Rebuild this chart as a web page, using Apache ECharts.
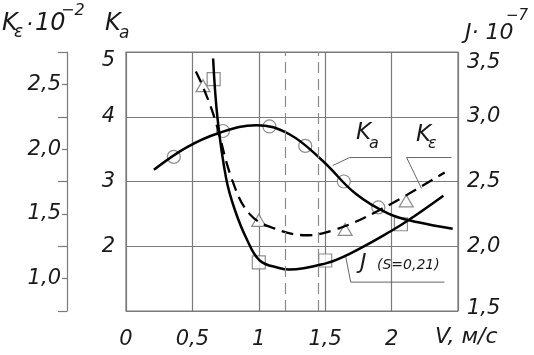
<!DOCTYPE html>
<html>
<head>
<meta charset="utf-8">
<script src="https://cdn.jsdelivr.net/npm/echarts@6/dist/echarts.min.js"></script>
<style>html,body{margin:0;padding:0;background:#fff}#c{width:534px;height:355px}</style>
</head>
<body>
<div id="c"></div>
<script>
// ---- data ----
const xTicks = [0, 0.5, 1, 1.5, 2];            // V, m/s labels shown
const kaTicks = [2, 3, 4, 5];
const jTicks = [1.5, 2.0, 2.5, 3.0, 3.5];
const keTicks = [1.0, 1.5, 2.0, 2.5];
const dashedV = [1.2, 1.45];

// Ka curve (solid) and measured points (circles)
const kaCurve = [[0.21,3.18],[0.45,3.52],[0.70,3.75],[0.98,3.87],[1.23,3.73],[1.48,3.32],[1.73,2.81],[1.98,2.50],[2.20,2.37],[2.46,2.27]];
const kaPoints = [[0.36,3.38],[0.73,3.78],[1.08,3.85],[1.35,3.55],[1.64,3.00],[1.90,2.60]];

// J (S=0,21) curve (solid) and measured points (squares), units 10^-7
const jCurve = [[0.656,3.45],[0.69,2.98],[0.755,2.52],[0.82,2.28],[0.907,2.06],[1.007,1.89],[1.16,1.83],[1.23,1.82],[1.51,1.87],[1.68,1.94],[2.00,2.12],[2.14,2.21],[2.39,2.39]];
const jPoints = [[0.66,3.29],[1.00,1.875],[1.50,1.89],[2.07,2.17]];

// K_eps curve (dashed) and measured points (triangles), units 10^-2
const keCurve = [[0.526,2.60],[0.58,2.48],[0.67,2.23],[0.80,1.76],[0.93,1.50],[1.11,1.39],[1.36,1.335],[1.58,1.38],[1.91,1.53],[2.40,1.82]];
const kePoints = [[0.58,2.49],[1.00,1.45],[1.65,1.38],[2.11,1.60]];

// leader lines for curve labels (in V / Ka units)
const kaLeader = [[1.556,3.246],[1.684,3.37],[2.00,3.37]];
const keLeader = [[2.226,2.89],[2.113,3.37],[2.451,3.37]];
const jLeader = [[1.654,1.846],[1.692,1.446],[2.398,1.446]];

// ---- styling ----
const FF = 'DejaVu Sans';
const GRID = '#7a7a7a';
const TXT = '#1a1a1a';
const lblStyle = {fontFamily: FF, fontStyle: 'italic', fontWeight: 200, fontSize: 21, color: TXT};
const comma = v => String(v).replace('.', ',');
const fmt1 = v => Number(v).toFixed(1).replace('.', ',');

const chart = echarts.init(document.getElementById('c'), null, {renderer: 'canvas'});

function txt(t, x, y, size, extra) {
  return Object.assign({
    type: 'text', x: x, y: y, silent: true,
    style: {text: t, fill: TXT, font: 'italic 200 ' + size + 'px "' + FF + '"', verticalAlign: 'middle', align: 'left'}
  }, extra || {});
}

const option = {
  animation: false,
  backgroundColor: '#fff',
  grid: {left: 126, right: 76, top: 52, bottom: 44, show: true, borderColor: GRID, borderWidth: 1.2, backgroundColor: 'transparent'},
  xAxis: [{
    type: 'value', min: 0, max: 2.5, interval: 0.5,
    axisLine: {show: false}, axisTick: {show: false},
    splitLine: {show: true, lineStyle: {color: GRID, width: 1.2}},
    axisLabel: Object.assign({}, lblStyle, {margin: 18, formatter: v => xTicks.some(t => Math.abs(t - v) < 1e-9) ? comma(v) : ''})
  }],
  yAxis: [
    { // Ka
      type: 'value', min: 1, max: 5, interval: 1, position: 'left',
      axisLine: {show: false}, axisTick: {show: false},
      splitLine: {show: true, lineStyle: {color: GRID, width: 1.2}},
      axisLabel: Object.assign({}, lblStyle, {margin: 11,
        formatter: v => kaTicks.includes(v) ? (v === 5 ? '{top|' + v + '}' : String(v)) : '',
        rich: {top: Object.assign({}, lblStyle, {padding: [18, 0, 0, 0]})}})
    },
    { // J
      type: 'value', min: 1.5, max: 3.5, interval: 0.5, position: 'right',
      axisLine: {show: false}, axisTick: {show: false}, splitLine: {show: false},
      axisLabel: Object.assign({}, lblStyle, {margin: 9,
        formatter: v => {
          if (!jTicks.some(t => Math.abs(t - v) < 1e-9)) return '';
          if (Math.abs(v - 3.5) < 1e-9) return '{top|' + fmt1(v) + '}';
          if (Math.abs(v - 1.5) < 1e-9) return '{bot|' + fmt1(v) + '}';
          return fmt1(v);
        },
        rich: {top: Object.assign({}, lblStyle, {padding: [22, 0, 0, 0]}), bot: Object.assign({}, lblStyle, {padding: [0, 0, 4, 0]})}})
    },
    { // K_eps axis line + ticks
      type: 'value', min: 0.75, max: 2.75, interval: 0.5, position: 'left', offset: 59,
      axisLine: {show: true, lineStyle: {color: GRID, width: 1.2}},
      axisTick: {show: true, inside: false, length: 9, lineStyle: {color: GRID, width: 1.2}},
      minorTick: {show: true, splitNumber: 2, length: 5, lineStyle: {color: GRID, width: 1.2}},
      splitLine: {show: false}, minorSplitLine: {show: false},
      axisLabel: {show: false}
    },
    { // K_eps labels
      type: 'value', min: 0.75, max: 2.75, interval: 0.25, position: 'left', offset: 59,
      axisLine: {show: false}, axisTick: {show: false}, splitLine: {show: false},
      axisLabel: Object.assign({}, lblStyle, {margin: 6,
        formatter: v => keTicks.some(t => Math.abs(t - v) < 1e-9) ? fmt1(v) : ''})
    }
  ],
  series: [
    {type: 'scatter', yAxisIndex: 0, data: kaPoints, symbol: 'circle', symbolSize: 13, z: 1,
      itemStyle: {color: '#fff', borderColor: '#707070', borderWidth: 1.2}},
    {type: 'scatter', yAxisIndex: 1, data: jPoints, symbol: 'rect', symbolSize: 13, z: 1,
      itemStyle: {color: '#fff', borderColor: '#707070', borderWidth: 1.2}},
    {type: 'scatter', yAxisIndex: 2, data: kePoints, symbol: 'triangle', symbolSize: [14, 12], z: 1,
      itemStyle: {color: '#fff', borderColor: '#707070', borderWidth: 1.2}},
    {type: 'line', yAxisIndex: 0, data: kaCurve, smooth: 0.4, showSymbol: false, z: 3,
      lineStyle: {color: '#000', width: 2.5},
      markLine: {silent: true, symbol: 'none', label: {show: false},
        lineStyle: {color: '#8a8a8a', width: 1.2, type: [11, 6]},
        data: dashedV.map(v => ({xAxis: v}))}},
    {type: 'line', yAxisIndex: 1, data: jCurve, smooth: 0.4, showSymbol: false, z: 3,
      lineStyle: {color: '#000', width: 2.5}},
    {type: 'line', yAxisIndex: 2, data: keCurve, smooth: 0.4, showSymbol: false, z: 3,
      lineStyle: {color: '#000', width: 2.3, type: [12, 7]}},
    {type: 'line', yAxisIndex: 0, data: kaLeader, showSymbol: false, silent: true, z: 2, lineStyle: {color: '#666', width: 1}},
    {type: 'line', yAxisIndex: 0, data: keLeader, showSymbol: false, silent: true, z: 2, lineStyle: {color: '#666', width: 1}},
    {type: 'line', yAxisIndex: 0, data: jLeader, showSymbol: false, silent: true, z: 2, lineStyle: {color: '#666', width: 1}}
  ],
  graphic: [
    txt('K', 2, 24, 24), txt('ε', 14, 33, 17), txt('·', 26, 25, 22), txt('10', 35, 24, 24), txt('−2', 61, 11, 16),
    txt('K', 105, 24, 24), txt('a', 119, 34, 17),
    txt('J· 10', 465, 33, 22), txt('−7', 506, 16, 15),
    txt('V, м/с', 435, 337, 22),
    txt('K', 356, 133, 23), txt('a', 369, 144, 16),
    txt('K', 416, 135, 23), txt('ε', 428, 144, 16),
    txt('J', 360, 263, 22), txt('(S=0,21)', 377, 265, 14)
  ]
};
chart.setOption(option);
</script>
</body>
</html>
